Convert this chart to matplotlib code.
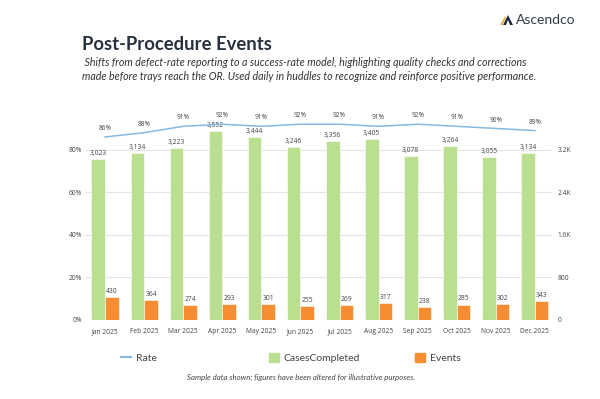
import matplotlib
matplotlib.use("Agg")
import matplotlib.pyplot as plt
from matplotlib.lines import Line2D
from matplotlib.patches import Patch, Polygon
from matplotlib.ticker import FuncFormatter
import numpy as np

plt.rcParams['font.family'] = ['Lato', 'DejaVu Sans']

months = ["Jan 2025", "Feb 2025", "Mar 2025", "Apr 2025", "May 2025", "Jun 2025",
          "Jul 2025", "Aug 2025", "Sep 2025", "Oct 2025", "Nov 2025", "Dec 2025"]
cases = [3023, 3134, 3223, 3552, 3444, 3246, 3356, 3405, 3078, 3264, 3055, 3134]
events = [430, 364, 274, 293, 301, 255, 269, 317, 238, 285, 302, 343]
rate = [86, 88, 91, 92, 91, 92, 92, 91, 92, 91, 90, 89]
pct_ticks = [0, 20, 40, 60, 80]
count_ticks = [0, 800, 1600, 2400, 3200]

GREEN = "#badf8e"
ORANGE = "#f78d32"
BLUE = "#86b8e2"
TXT = "#444444"
NUMFONT = ['Open Sans', 'DejaVu Sans']

fig = plt.figure(figsize=(6.0, 3.99), dpi=100)
ax = fig.add_axes([86/600, 79.3/399, 466/600, 212.5/399])
ax2 = ax.twinx()

x = np.arange(len(months))
w = 0.35

# bars on right (count) axis
ax2.bar(x - w/2, cases, width=w, color=GREEN, edgecolor="white", linewidth=0.4, zorder=2)
ax2.bar(x + w/2, events, width=w, color=ORANGE, edgecolor="white", linewidth=0.4, zorder=2)
for xi, v in zip(x - w/2, cases):
    ax2.annotate(f"{v:,}", (xi, v), xytext=(0, 1.5), textcoords="offset points",
                 ha="center", va="bottom", fontsize=4.9, color=TXT, family=NUMFONT)
for xi, v in zip(x + w/2, events):
    ax2.annotate(f"{v:,}", (xi, v), xytext=(0, 1.5), textcoords="offset points",
                 ha="center", va="bottom", fontsize=4.9, color=TXT, family=NUMFONT)
ax2.set_ylim(0, 4000)
ax2.set_yticks(count_ticks)
ax2.yaxis.set_major_formatter(FuncFormatter(
    lambda v, p: "0" if v == 0 else (f"{v/1000:.1f}K" if v >= 1000 else f"{int(v)}")))
for t in count_ticks:
    ax2.axhline(t, color="#e4e4e4" if t else "#d4d4d4", linewidth=0.8, zorder=0)

# line on left (percent) axis
ax.set_zorder(ax2.get_zorder() + 1)
ax.patch.set_visible(False)
ax.plot(x, rate, color=BLUE, linewidth=1.1, zorder=3)
for xi, v in zip(x, rate):
    ax.annotate(f"{v}%", (xi, v), xytext=(0, 3.5), textcoords="offset points",
                ha="center", va="bottom", fontsize=4.7, color=TXT, family=NUMFONT)
ax.set_ylim(0, 100)
ax.set_yticks(pct_ticks)
ax.set_yticklabels([f"{t}%" for t in pct_ticks])
ax.set_xlim(-0.49, 11.44)
ax.set_xticks(x)
ax.set_xticklabels(months)

for a in (ax, ax2):
    for s in a.spines.values():
        s.set_visible(False)
    a.tick_params(length=0, labelsize=4.8, labelcolor=TXT)
    for lab in a.get_xticklabels() + a.get_yticklabels():
        lab.set_family(NUMFONT)
ax.tick_params(axis="y", pad=3)
ax2.tick_params(axis="y", pad=4)
ax.tick_params(axis="x", pad=6)

# titles
fig.text(82/600, 1 - 50/399, "Post-Procedure Events", fontsize=13.3, fontweight="bold",
         color="#26313d", ha="left", va="baseline")
fig.text(82/600, 1 - 63/399,
         " Shifts from defect-rate reporting to a success-rate model, highlighting quality checks and corrections",
         fontsize=7.65, style="italic", color="#333333", ha="left", va="center")
fig.text(82/600, 1 - 77/399,
         "made before trays reach the OR. Used daily in huddles to recognize and reinforce positive performance.",
         fontsize=7.65, style="italic", color="#333333", ha="left", va="center")

# logo
fig.text(516/600, 1 - 20/399, "Ascendco", fontsize=10, color="#333a44", ha="left", va="center")
fig.patches.append(Polygon([[503/600, 1 - 25/399], [508/600, 1 - 15/399], [513/600, 1 - 25/399],
                            [510/600, 1 - 25/399], [508/600, 1 - 20/399], [506/600, 1 - 25/399]],
                           closed=True, transform=fig.transFigure, facecolor="#1f2a3a"))
fig.patches.append(Polygon([[500/600, 1 - 25/399], [505/600, 1 - 16/399], [506/600, 1 - 18/399],
                            [502.5/600, 1 - 25/399]],
                           closed=True, transform=fig.transFigure, facecolor="#e8b84a"))

# legend
ly = 1 - 358/399
fig.legend([Line2D([0], [0], color=BLUE, linewidth=1.5)], ["Rate"],
           loc="center left", bbox_to_anchor=(112/600, ly), frameon=False,
           fontsize=7.5, handlelength=0.9, handletextpad=0.5, labelcolor=TXT)
fig.legend([Patch(color=GREEN)], ["CasesCompleted"],
           loc="center left", bbox_to_anchor=(260/600, ly), frameon=False,
           fontsize=7.5, handlelength=0.9, handleheight=0.9, handletextpad=0.5, labelcolor=TXT)
fig.legend([Patch(color=ORANGE)], ["Events"],
           loc="center left", bbox_to_anchor=(406/600, ly), frameon=False,
           fontsize=7.5, handlelength=0.9, handleheight=0.9, handletextpad=0.5, labelcolor=TXT)

fig.text(301/600, 1 - 377/399,
         "Sample data shown; figures have been altered for illustrative purposes.",
         fontsize=5.6, style="italic", color="#444444", ha="center", va="center")

fig.savefig("out.png", dpi=100, facecolor="white")
